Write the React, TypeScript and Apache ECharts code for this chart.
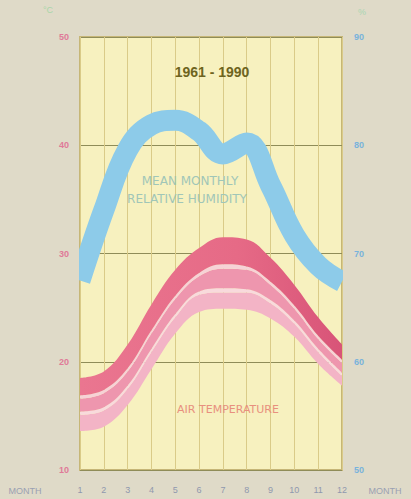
import React, { useEffect, useRef } from 'react';
import * as echarts from 'echarts';

const months = ['1', '2', '3', '4', '5', '6', '7', '8', '9', '10', '11', '12'];
// Mean monthly relative humidity (%), right axis
const humidity = [67.5, 74.0, 79.6, 81.9, 82.3, 81.3, 79.2, 80.2, 76.3, 71.7, 68.9, 67.4];
// Air temperature bands (°C), left axis: edges of the three shaded bands
const bandATop = [18.5, 19.1, 21.6, 25.3, 28.5, 30.5, 31.5, 31.3, 29.6, 27.1, 24.1, 21.6];
const bandABottom = [16.9, 17.4, 19.4, 22.9, 26.1, 28.2, 29.0, 28.8, 27.4, 25.2, 22.4, 20.2];
const bandBTop = [16.6, 17.1, 19.1, 22.6, 25.8, 27.9, 28.6, 28.5, 27.1, 24.9, 22.1, 19.9];
const bandBBottom = [15.4, 15.8, 17.8, 21.2, 24.4, 26.5, 26.8, 26.7, 25.7, 23.8, 21.2, 19.0];
const bandCTop = [15.1, 15.5, 17.5, 20.9, 24.1, 26.2, 26.4, 26.4, 25.4, 23.5, 20.9, 18.7];
const bandCBottom = [13.6, 14.0, 16.0, 19.3, 22.6, 24.6, 24.9, 24.8, 24.0, 22.3, 19.8, 17.8];
const tempTicks = [10, 50, 10];
const humTicks = [50, 90, 10];

export default function App() {
  const ref = useRef<HTMLDivElement>(null);
  useEffect(() => {
    document.body.style.margin = '0';
    const chart = echarts.init(ref.current!, null, { renderer: 'svg' });
    const diff = (a: number[], b: number[]) => a.map((v, i) => +(v - b[i]).toFixed(2));
    const band = (name: string, data: number[], color: any, area = true) => ({
      type: 'line',
      name,
      stack: 'temp',
      data,
      smooth: 0.4,
      symbol: 'none',
      lineStyle: { width: 0 },
      areaStyle: area ? { color, opacity: 1 } : undefined,
      z: 3,
      silent: true,
    });
    const redGrad = new echarts.graphic.LinearGradient(0, 0, 1, 0, [
      { offset: 0, color: '#ea7690' },
      { offset: 0.6, color: '#e66a86' },
      { offset: 1, color: '#d85478' },
    ]);
    const bg = '#dfdac8';
    chart.setOption({
      animation: false,
      backgroundColor: bg,
      grid: {
        left: 80,
        right: 69,
        top: 37,
        bottom: 29,
        show: true,
        backgroundColor: '#f7f1bf',
        borderColor: '#c6b677',
        borderWidth: 2,
      },
      xAxis: {
        type: 'category',
        data: months,
        boundaryGap: false,
        axisLine: { show: false },
        axisTick: { show: false },
        axisLabel: { color: '#8f98ae', fontSize: 9, margin: 15, fontFamily: 'Liberation Sans' },
        splitLine: { show: true, lineStyle: { color: '#dacb88', width: 1 } },
      },
      yAxis: [
        {
          type: 'value',
          min: tempTicks[0],
          max: tempTicks[1],
          interval: tempTicks[2],
          position: 'left',
          axisLine: { show: false },
          axisTick: { show: false },
          axisLabel: { color: '#e07a98', fontSize: 9, margin: 11, fontFamily: 'Liberation Sans', fontWeight: 'bold' },
          splitLine: { show: true, lineStyle: { color: '#8f8c58', width: 1 } },
        },
        {
          type: 'value',
          min: humTicks[0],
          max: humTicks[1],
          interval: humTicks[2],
          position: 'right',
          axisLine: { show: false },
          axisTick: { show: false },
          axisLabel: { color: '#79b3dc', fontSize: 9, margin: 12, fontFamily: 'Liberation Sans', fontWeight: 'bold' },
          splitLine: { show: false },
        },
      ],
      series: [
        band('base', bandCBottom, null, false),
        band('bandC', diff(bandCTop, bandCBottom), '#f3b4c6'),
        band('gapCB', diff(bandBBottom, bandCTop), '#f8dadc'),
        band('bandB', diff(bandBTop, bandBBottom), '#ee96ae'),
        band('gapBA', diff(bandABottom, bandBTop), '#f6d2d6'),
        band('bandA', diff(bandATop, bandABottom), redGrad),
        {
          type: 'line',
          name: 'humidity',
          yAxisIndex: 1,
          data: humidity,
          smooth: 0.4,
          symbol: 'none',
          lineStyle: { width: 21, color: '#8dcbe9', cap: 'butt', join: 'round' },
          z: 2,
          silent: true,
        },
      ],
      graphic: [
        // masks so the thick humidity band is cut at the plot frame
        { type: 'rect', shape: { x: 70, y: 235, width: 9, height: 70 }, style: { fill: bg }, z: 100, silent: true },
        { type: 'rect', shape: { x: 343, y: 245, width: 9, height: 60 }, style: { fill: bg }, z: 100, silent: true },
        { type: 'text', x: 212, y: 72, style: { text: '1961 - 1990', fill: '#6e6420', font: 'bold 14px "Liberation Sans"', align: 'center', verticalAlign: 'middle' }, z: 10 },
        { type: 'text', x: 190, y: 181, style: { text: 'MEAN MONTHLY', fill: '#a0c6b8', font: '12px "DejaVu Sans"', align: 'center', verticalAlign: 'middle' }, z: 10 },
        { type: 'text', x: 187, y: 199, style: { text: 'RELATIVE HUMIDITY', fill: '#a0c6b8', font: '12px "DejaVu Sans"', align: 'center', verticalAlign: 'middle' }, z: 10 },
        { type: 'text', x: 228, y: 409, style: { text: 'AIR TEMPERATURE', fill: '#e8907e', font: '11px "DejaVu Sans"', align: 'center', verticalAlign: 'middle' }, z: 10 },
        { type: 'text', x: 25, y: 491, style: { text: 'MONTH', fill: '#9aa0b2', font: '9px "Liberation Sans"', align: 'center', verticalAlign: 'middle' }, z: 10 },
        { type: 'text', x: 385, y: 491, style: { text: 'MONTH', fill: '#9aa0b2', font: '9px "Liberation Sans"', align: 'center', verticalAlign: 'middle' }, z: 10 },
        { type: 'text', x: 48, y: 10, style: { text: '°C', fill: '#a9d6a8', font: '9px "Liberation Sans"', align: 'center', verticalAlign: 'middle' }, z: 10 },
        { type: 'text', x: 362, y: 12, style: { text: '%', fill: '#a9d6b2', font: '9px "Liberation Sans"', align: 'center', verticalAlign: 'middle' }, z: 10 },
      ],
    });
    return () => chart.dispose();
  }, []);
  return <div ref={ref} style={{ width: 411, height: 499 }} />;
}
